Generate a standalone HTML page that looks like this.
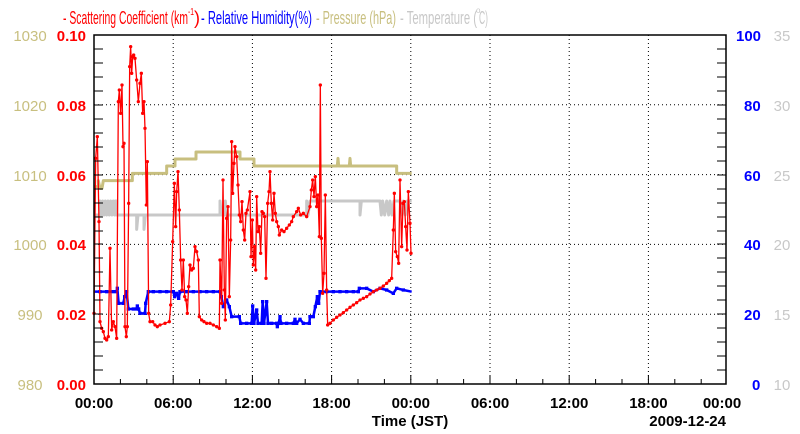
<!DOCTYPE html>
<html><head><meta charset="utf-8"><style>
html,body{margin:0;padding:0;background:#fff;}
svg{display:block;font-family:"Liberation Sans",sans-serif;}
</style></head><body>
<svg width="800" height="434" viewBox="0 0 800 434" xmlns="http://www.w3.org/2000/svg">
<defs>
<marker id="rd" markerUnits="userSpaceOnUse" markerWidth="14" markerHeight="14" refX="7" refY="7"><circle cx="7" cy="7" r="5" fill="#ff0000"/></marker>
<marker id="bd" markerUnits="userSpaceOnUse" markerWidth="14" markerHeight="14" refX="7" refY="7"><rect x="2" y="2" width="10" height="10" fill="#0000ff"/></marker>
</defs>
<!-- legend -->
<g font-size="18">
<text x="63" y="24" fill="#ff0000" textLength="125" lengthAdjust="spacingAndGlyphs">- Scattering Coefficient (km</text>
<text x="188" y="15" fill="#ff0000" font-size="10" textLength="6" lengthAdjust="spacingAndGlyphs">-1</text>
<text x="194" y="24" fill="#ff0000">)</text>
<text x="201" y="24" fill="#0000ff" textLength="111" lengthAdjust="spacingAndGlyphs">- Relative Humidity(%)</text>
<text x="316" y="24" fill="#c8bf7f" textLength="80" lengthAdjust="spacingAndGlyphs">- Pressure (hPa)</text>
<text x="400" y="24" fill="#c8c8c8" textLength="77" lengthAdjust="spacingAndGlyphs">- Temperature (</text>
<text x="476" y="13" fill="#c8c8c8" font-size="8">o</text>
<text x="479" y="24" fill="#c8c8c8" textLength="9" lengthAdjust="spacingAndGlyphs">C)</text>
</g>
<!-- grid -->
<g stroke="#000" stroke-width="1" stroke-dasharray="1,3">
<line x1="94" x2="726" y1="104.8" y2="104.8"/><line x1="94" x2="726" y1="174.6" y2="174.6"/>
<line x1="94" x2="726" y1="244.4" y2="244.4"/><line x1="94" x2="726" y1="314.2" y2="314.2"/>
<line x1="173.2" x2="173.2" y1="35" y2="384"/><line x1="252.4" x2="252.4" y1="35" y2="384"/>
<line x1="331.6" x2="331.6" y1="35" y2="384"/><line x1="410.8" x2="410.8" y1="35" y2="384"/>
<line x1="490" x2="490" y1="35" y2="384"/><line x1="569.2" x2="569.2" y1="35" y2="384"/>
<line x1="648.4" x2="648.4" y1="35" y2="384"/>
</g>
<g transform="translate(80,30) scale(0.33333)" fill="none" stroke-linejoin="round">
<polyline vector-effect="non-scaling-stroke" stroke="#c8c8c8" stroke-width="3" points="42,555 60,555 60,513 64,555 68,513 72,555 76,513 80,555 84,513 88,555 92,513 96,555 100,513 104,555 106,513 110,513 110,555 170,555 170,598 174,555 192,555 192,598 196,555 420,555 420,513 424,555 436,555 436,513 440,555 680,555 680,513 684,555 690,513 700,513 840,513 840,555 844,513 900,513 904,555 908,513 914,555 920,513 926,555 930,513 936,555 942,513 960,513 966,555 970,513 976,555 982,513 995,513"/>
<polyline vector-effect="non-scaling-stroke" stroke="#c8bf7f" stroke-width="3" points="42,470 55,470 55,452 60,475 66,475 70,452 157,452 157,430 260,430 260,408 285,408 285,387 348,387 348,366 480,366 480,387 522,387 522,408 772,408 774,385 776,408 808,408 810,385 812,408 950,408 950,430 995,430"/>
<polyline vector-effect="non-scaling-stroke" stroke="#0000ff" stroke-width="2.5" marker-mid="url(#bd)" points="42,785 60,785 80,785 100,785 110,785 112,775 116,820 130,820 134,800 140,785 145,837 160,837 170,837 172,828 176,837 180,850 195,850 197,820 205,785 220,785 240,785 260,785 280,785 284,800 290,790 296,805 300,785 320,785 340,785 360,785 380,785 400,785 420,785 424,800 430,830 440,810 448,830 455,860 478,860 482,880 500,880 515,880 518,828 522,880 530,840 534,880 545,880 548,815 552,880 560,815 564,880 575,880 590,880 592,890 596,880 600,860 603,880 620,880 640,880 645,868 650,880 660,868 670,880 688,880 690,860 700,860 706,830 712,800 716,820 720,785 740,785 760,785 780,785 800,785 820,785 835,785 838,775 860,775 880,785 900,775 920,780 940,790 950,775 970,780 995,785"/>
<polyline vector-effect="non-scaling-stroke" stroke="#ff0000" stroke-width="1.3" marker-start="url(#rd)" marker-mid="url(#rd)" marker-end="url(#rd)" points="42,850 47,385 52,320 57,575 60,875 65,895 70,905 75,925 80,930 85,920 90,655 95,900 100,875 105,890 110,925 115,215 118,180 122,250 126,165 129,350 132,340 135,890 139,920 142,890 146,520 149,110 152,50 155,130 158,80 161,75 165,85 170,150 175,215 180,160 184,130 188,250 192,215 195,295 199,525 202,395 206,850 210,875 218,875 225,885 232,890 240,885 255,880 268,875 272,825 278,635 283,460 287,590 290,485 294,425 298,540 302,690 306,780 310,690 314,800 318,810 322,850 326,770 330,705 335,720 340,715 345,650 350,665 355,690 358,860 365,870 372,875 380,880 390,880 400,885 410,890 418,895 420,690 425,820 429,450 433,780 436,870 440,565 444,530 448,800 452,630 455,335 458,490 462,400 465,350 470,380 474,465 478,555 482,575 486,515 490,600 494,630 498,550 502,540 510,485 513,680 517,570 520,705 524,650 527,720 530,500 534,605 538,590 542,670 546,545 550,550 554,560 558,745 563,520 567,485 570,425 574,520 578,570 582,490 586,550 590,575 595,590 598,615 605,600 612,605 620,595 628,585 635,575 640,560 650,545 655,535 662,555 670,550 680,560 690,530 694,480 698,450 702,500 706,440 710,530 714,495 718,620 721,165 724,625 728,790 732,730 736,495 740,780 743,885 750,880 760,870 770,862 780,855 790,848 800,840 810,832 820,825 830,818 840,810 850,805 860,800 870,792 880,785 890,780 900,775 910,768 920,760 928,752 935,745 940,600 943,490 947,665 952,680 956,700 960,450 965,650 969,520 973,515 977,590 981,660 985,485 990,580 993,670"/>
</g>
<rect x="94" y="35" width="632" height="349" fill="none" stroke="#000" stroke-width="1.5"/>
<g stroke="#000" stroke-width="1">
<path d="M94,49h9M94,63h9M94,77h9M94,91h9M94,105h9M94,119h9M94,133h9M94,147h9M94,161h9M94,175h9M94,189h9M94,203h9M94,217h9M94,231h9M94,244h9M94,258h9M94,272h9M94,286h9M94,300h9M94,314h9M94,328h9M94,342h9M94,356h9M94,370h9"/>
<path d="M726,49h-9M726,63h-9M726,77h-9M726,91h-9M726,105h-9M726,119h-9M726,133h-9M726,147h-9M726,161h-9M726,175h-9M726,189h-9M726,203h-9M726,217h-9M726,231h-9M726,244h-9M726,258h-9M726,272h-9M726,286h-9M726,300h-9M726,314h-9M726,328h-9M726,342h-9M726,356h-9M726,370h-9"/>
<path d="M120.4,384v-5M146.8,384v-5M173.2,384v-9M199.6,384v-5M226,384v-5M252.4,384v-9M278.8,384v-5M305.2,384v-5M331.6,384v-9M358,384v-5M384.4,384v-5M410.8,384v-9M437.2,384v-5M463.6,384v-5M490,384v-9M516.4,384v-5M542.8,384v-5M569.2,384v-9M595.6,384v-5M622,384v-5M648.4,384v-9M674.8,384v-5M701.2,384v-5"/>
</g>
<g font-size="15" fill="#c8bf7f" text-anchor="middle">
<text x="30" y="41">1030</text><text x="30" y="111">1020</text><text x="30" y="181">1010</text><text x="30" y="250">1000</text><text x="30" y="320">990</text><text x="30" y="390">980</text>
</g>
<g font-size="15" font-weight="bold" fill="#ff0000" text-anchor="end">
<text x="86" y="41">0.10</text><text x="86" y="111">0.08</text><text x="86" y="181">0.06</text><text x="86" y="250">0.04</text><text x="86" y="320">0.02</text><text x="86" y="390">0.00</text>
</g>
<g font-size="15" font-weight="bold" fill="#0000ff" text-anchor="start">
<text x="736" y="41">100</text><text x="744" y="111">80</text><text x="744" y="181">60</text><text x="744" y="250">40</text><text x="744" y="320">20</text><text x="752" y="390">0</text>
</g>
<g font-size="15" fill="#c8c8c8" text-anchor="middle">
<text x="782" y="41">35</text><text x="782" y="111">30</text><text x="782" y="181">25</text><text x="782" y="250">20</text><text x="782" y="320">15</text><text x="782" y="390">10</text>
</g>
<g font-size="15" font-weight="bold" fill="#000" text-anchor="middle">
<text x="94" y="408">00:00</text><text x="173.2" y="408">06:00</text><text x="252.4" y="408">12:00</text><text x="331.6" y="408">18:00</text><text x="410.8" y="408">00:00</text><text x="490" y="408">06:00</text><text x="569.2" y="408">12:00</text><text x="648.4" y="408">18:00</text><text x="722" y="408">00:00</text>
<text x="410" y="426">Time (JST)</text>
<text x="726" y="426" text-anchor="end">2009-12-24</text>
</g>
</svg>
</body></html>
